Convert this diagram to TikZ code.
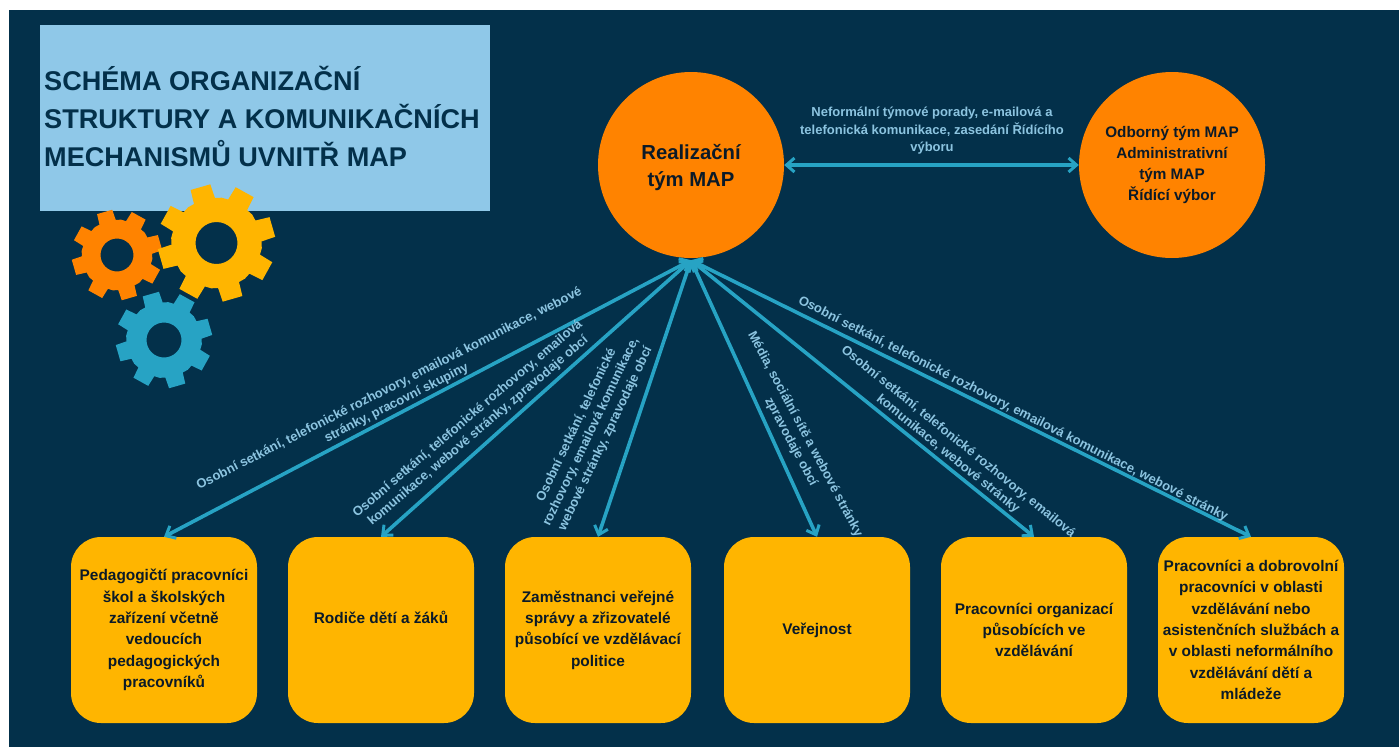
\documentclass[tikz,border=0pt]{standalone}
\usepackage{fontspec}
\setmainfont{Liberation Sans}
\usetikzlibrary{arrows.meta}
\definecolor{navy}{HTML}{03304A}
\definecolor{orng}{HTML}{FF8300}
\definecolor{yelw}{HTML}{FFB500}
\definecolor{teal2}{HTML}{27A3C4}
\definecolor{sky}{HTML}{8FC8E8}
\definecolor{lbl}{HTML}{8CC4E0}
\definecolor{ink}{HTML}{0B1A28}
\newcommand\mygear[7]{%
\begin{scope}[shift={(#1,#2)}]
\fill[#7,even odd rule] ({#6-14}:#4)
 \foreach \k in {0,...,7}{
  -- ({#6+45*\k-14}:#4) -- ({#6+45*\k-10}:#3) -- ({#6+45*\k+10}:#3) -- ({#6+45*\k+14}:#4)
  -- ({#6+45*\k+22.5}:#4+0.6)
 } -- cycle (0,0) circle[radius=#5];
\end{scope}}
\tikzset{
 hub/.style={circle,fill=orng,minimum size=186pt,inner sep=0pt,text=ink,align=center,font=\bfseries\fontsize{15.3}{21.2}\selectfont},
 group/.style={rectangle,rounded corners=30pt,fill=yelw,minimum size=186pt,inner sep=0pt,text=ink,align=center,font=\bfseries\fontsize{15.4}{21.3}\selectfont},
 link/.style={draw=teal2,line width=3.6pt,{Straight Barb[length=8pt,width=14pt,line width=3pt]}-{Straight Barb[length=8pt,width=14pt,line width=3pt]}},
 lab/.style={text=lbl,align=center,inner sep=0pt,font=\bfseries\fontsize{13}{16}\selectfont},
}
\begin{document}
\begin{tikzpicture}[x=1pt,y=-1pt]
\useasboundingbox (0,0) rectangle (1399,747);
\fill[white] (0,0) rectangle (1399,747);
\fill[navy] (8.5,10) rectangle (1399,747);
\node[fill=sky,minimum width=450pt,minimum height=186pt,inner sep=0pt] (titlebox) at (264.5,118) {};
\node[anchor=west,text=navy,align=left,inner sep=0pt,font=\bfseries\fontsize{27.1}{37.8}\selectfont] (title) at (44,116.5) {SCHÉMA ORGANIZAČNÍ\\STRUKTURY A KOMUNIKAČNÍCH\\MECHANISMŮ UVNITŘ MAP};
\mygear{164}{340}{48.5}{37.5}{17.5}{-16}{teal2}
\mygear{117}{255}{45.5}{35}{16.5}{-16}{orng}
\mygear{216.5}{243}{59}{45}{21}{-16}{yelw}
\node[hub] (real) at (691,165) {};
\node[text=ink,align=center,inner sep=0pt,font=\bfseries\fontsize{20.3}{27}\selectfont] (realtext) at (691,167.5) {Realizační\\tým MAP};
\node[hub] (odb) at (1172,165) {Odborný tým MAP\\Administrativní\\tým MAP\\Řídící výbor};
\node[group] (b1) at (164,630) {Pedagogičtí pracovníci\\škol a školských\\zařízení včetně\\vedoucích\\pedagogických\\pracovníků};
\node[group] (b2) at (381,630) {Rodiče dětí a žáků\\[4pt]};
\node[group] (b3) at (598,630) {Zaměstnanci veřejné\\správy a zřizovatelé\\působící ve vzdělávací\\politice};
\node[group] (b4) at (817,630) {Veřejnost};
\node[group] (b5) at (1034,630) {Pracovníci organizací\\působících ve\\vzdělávání};
\node[group] (b6) at (1251,630) {Pracovníci a dobrovolní\\pracovníci v oblasti\\vzdělávání nebo\\asistenčních službách a\\v oblasti neformálního\\vzdělávání dětí a\\mládeže};
\draw[link] (real) -- (odb);
\foreach \t in {b1,b2,b3,b4,b5,b6}{\draw[link] ([yshift=-2pt]real.south) -- (\t.north);}
\node[lab,font=\bfseries\fontsize{13}{17.5}\selectfont] (l0) at (932,131) {Neformální týmové porady, e-mailová a\\telefonická komunikace, zasedání Řídícího\\výboru};
\node[lab,rotate=27] (l1) at (393,396) {Osobní setkání, telefonické rozhovory, emailová komunikace, webové\\stránky, pracovní skupiny};
\node[lab,rotate=40.4] (l2) at (473,425) {Osobní setkání, telefonické rozhovory, emailová\\komunikace, webové stránky, zpravodaje obcí};
\node[lab,rotate=64.5] (l3) at (591,432) {Osobní setkání, telefonické\\rozhovory, emailová komunikace,\\webové stránky, zpravodaje obcí};
\node[lab,rotate=-62] (l4) at (798,438) {Média, sociální sítě a webové stránky\\zpravodaje obcí};
\node[lab,rotate=-39] (l5) at (953,448) {Osobní setkání, telefonické rozhovory, emailová\\komunikace, webové stránky};
\node[lab,rotate=-27] (l6) at (1013,409) {Osobní setkání, telefonické rozhovory, emailová komunikace, webové stránky};
\end{tikzpicture}
\end{document}
